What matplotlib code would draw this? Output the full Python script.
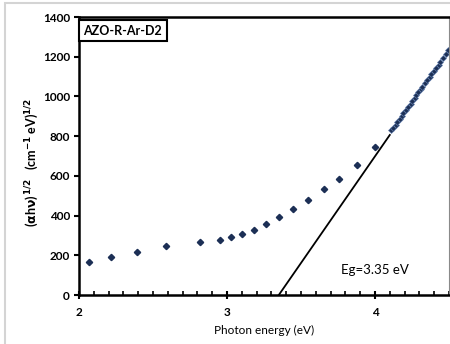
import numpy as np
import matplotlib
matplotlib.use("Agg")
import matplotlib.pyplot as plt
from matplotlib.patches import Rectangle
from matplotlib.ticker import MultipleLocator

# Tauc plot data
energy_low = [2.07, 2.215, 2.39, 2.586, 2.82, 2.956, 3.03, 3.10, 3.185, 3.266,
              3.354, 3.448, 3.549, 3.657, 3.76, 3.88, 4.0]
tauc_low = [166, 191, 217, 247, 267, 277, 292, 307, 327, 357,
            393, 433, 478, 534, 586, 655, 745]

energy_high = [4.11, 4.12, 4.14, 4.15, 4.17, 4.18, 4.19, 4.21, 4.22, 4.24,
               4.25, 4.27, 4.28, 4.29, 4.31, 4.32, 4.34, 4.35, 4.37, 4.38,
               4.40, 4.41, 4.43, 4.44, 4.46, 4.48, 4.49]
tauc_high = [830, 842, 858, 872, 888, 902, 915, 932, 946, 962,
             976, 992, 1006, 1020, 1038, 1050, 1068, 1082, 1100, 1112,
             1130, 1142, 1160, 1172, 1192, 1215, 1232]

# linear fit extrapolated to the band gap
fit_x = [3.35, 4.10]
fit_y = [0, 806]

label_font = "Lato"
navy = "#1c2f55"

fig = plt.figure(figsize=(4.5, 3.44), dpi=100)
# light grey frame round the picture
fig.patches.append(Rectangle((5 / 450, -0.05), 1.2, 1 - 3 / 344 + 0.05,
                             transform=fig.transFigure, fill=False,
                             edgecolor="#d4d4d4", linewidth=1.5))

ax = fig.add_axes([79 / 450, 1 - 295 / 344, 370 / 450, 278 / 344])

ax.plot(energy_low, tauc_low, linestyle="none", marker="D", markersize=3.2,
        color=navy, markeredgecolor=navy)
ax.plot(energy_high, tauc_high, linestyle="none", marker="D", markersize=3.0,
        color=navy, markeredgecolor="#5f7aa8", markeredgewidth=0.5)
ax.plot(fit_x, fit_y, color="black", linewidth=1.3)

ax.set_xlim(2, 4.5)
ax.set_ylim(0, 1400)
ax.xaxis.set_major_locator(MultipleLocator(1))
ax.xaxis.set_minor_locator(MultipleLocator(0.1))
ax.yaxis.set_major_locator(MultipleLocator(200))

for side in ["left", "bottom", "top"]:
    ax.spines[side].set_linewidth(1.8)
    ax.spines[side].set_color("black")
ax.spines["right"].set_linewidth(0.8)
ax.spines["right"].set_color("#8a8a8a")

ax.tick_params(axis="x", which="major", direction="inout", length=6, width=1.5,
               pad=6, top=False)
ax.tick_params(axis="x", which="minor", direction="in", length=3, width=1.2,
               top=False)
ax.tick_params(axis="y", which="major", direction="out", length=3.5, width=1.5,
               pad=3, right=False)
for lab in ax.get_xticklabels() + ax.get_yticklabels():
    lab.set_fontfamily(label_font)
    lab.set_fontweight("bold")
    lab.set_fontsize(8.5)

ax.set_xlabel("Photon energy (eV)", fontfamily=label_font, fontsize=8.5, labelpad=5)
fig.text(32 / 450, 1 - 162 / 344,
         r"($\mathbf{\alpha}$h$\mathbf{\nu}$)$^{\,\mathbf{1/2}}$   (cm$^{\mathbf{-1}}$ eV)$^{\mathbf{1/2}}$",
         rotation=90, ha="center", va="center", fontfamily=label_font,
         fontsize=9, fontweight="bold")

ax.text(0.012, 0.972, "AZO-R-Ar-D2", transform=ax.transAxes, ha="left",
        va="top", fontfamily=label_font, fontsize=9, fontweight="bold",
        bbox=dict(boxstyle="square,pad=0.35", facecolor="white",
                  edgecolor="black", linewidth=1.5))
ax.text(4.0, 125, "Eg=3.35 eV", ha="center", va="center",
        fontfamily=label_font, fontsize=9.5)

fig.savefig("out.png", dpi=100)
